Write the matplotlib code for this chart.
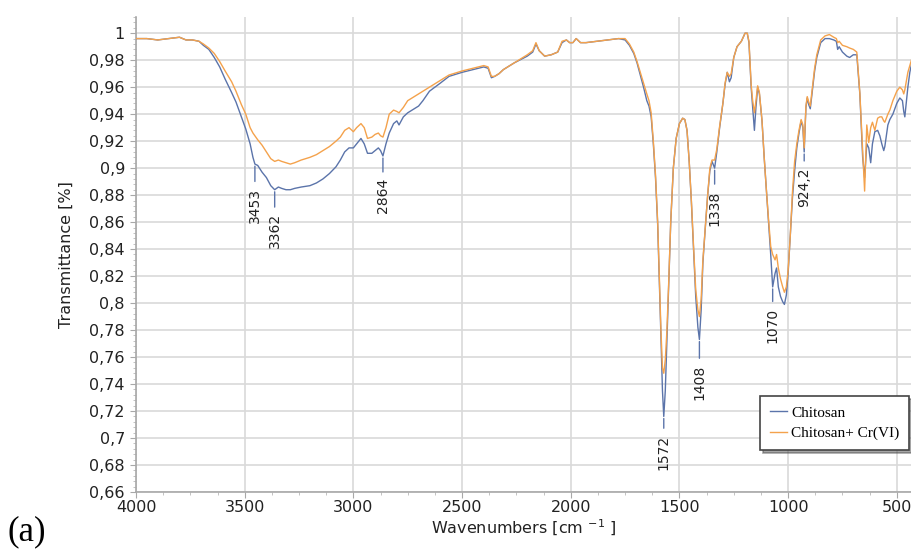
import numpy as np
import matplotlib.pyplot as plt
from matplotlib.ticker import MultipleLocator, AutoMinorLocator, FuncFormatter

# FTIR spectra: wavenumber [cm-1] and transmittance for both samples
wavenumber = [
    4000, 3950, 3900, 3850, 3800, 3770, 3740, 3710, 3690, 3665, 3640, 3615,
    3590, 3560, 3540, 3515, 3495, 3475, 3462, 3453, 3440, 3420, 3400, 3380,
    3362, 3345, 3330, 3310, 3290, 3270, 3240, 3200, 3170, 3140, 3110, 3080,
    3060, 3040, 3020, 3000, 2985, 2965, 2950, 2935, 2915, 2900, 2885, 2875,
    2864, 2850, 2835, 2815, 2800, 2790, 2770, 2750, 2720, 2700, 2680, 2650,
    2600, 2560, 2500, 2450, 2400, 2380, 2365, 2350, 2330, 2310, 2260, 2200,
    2175, 2160, 2145, 2120, 2090, 2060, 2040, 2020, 2005, 1990, 1975, 1955,
    1930, 1880, 1830, 1780, 1750, 1730, 1710, 1695, 1680, 1665, 1650, 1640,
    1630, 1620, 1610, 1600, 1592, 1585, 1578, 1572, 1565, 1558, 1550, 1540,
    1528, 1515, 1500, 1485, 1475, 1465, 1455, 1445, 1435, 1425, 1415, 1408,
    1400, 1392, 1380, 1370, 1360, 1350, 1338, 1328, 1315, 1300, 1290, 1280,
    1270, 1262, 1250, 1235, 1215, 1198, 1188, 1180, 1170, 1163, 1155, 1148,
    1140, 1132, 1120, 1110, 1100, 1090, 1080, 1071, 1060, 1053, 1045, 1035,
    1025, 1017, 1008, 1000, 990, 980, 970, 960, 950, 940, 932, 926,
    918, 912, 905, 898, 888, 878, 868, 850, 830, 810, 790, 778,
    772, 765, 750, 730, 717, 700, 684, 670, 657, 648, 638, 629,
    620, 612, 601, 588, 578, 569, 560, 555, 541, 532, 518, 500,
    486, 474, 468, 463, 449, 440, 431,
]

chitosan = [
    0.996, 0.996, 0.995, 0.996, 0.997, 0.995, 0.995, 0.994, 0.991, 0.988, 0.982, 0.975,
    0.966, 0.956, 0.949, 0.938, 0.929, 0.918, 0.908, 0.903, 0.902, 0.897, 0.893, 0.887,
    0.884, 0.886, 0.885, 0.884, 0.884, 0.885, 0.886, 0.887, 0.889, 0.892, 0.896, 0.901,
    0.906, 0.912, 0.915, 0.915, 0.918, 0.922, 0.918, 0.911, 0.911, 0.913, 0.915, 0.913,
    0.909, 0.918, 0.926, 0.933, 0.935, 0.932, 0.938, 0.941, 0.944, 0.946, 0.950, 0.957,
    0.963, 0.968, 0.971, 0.973, 0.975, 0.974, 0.967, 0.968, 0.970, 0.973, 0.978, 0.983,
    0.986, 0.992, 0.987, 0.983, 0.984, 0.986, 0.993, 0.995, 0.993, 0.993, 0.996, 0.993,
    0.993, 0.994, 0.995, 0.996, 0.995, 0.991, 0.985, 0.978, 0.969, 0.960, 0.950, 0.946,
    0.938, 0.918, 0.893, 0.858, 0.815, 0.775, 0.735, 0.716, 0.735, 0.770, 0.810, 0.860,
    0.900, 0.922, 0.933, 0.937, 0.936, 0.928, 0.905, 0.875, 0.840, 0.805, 0.782, 0.773,
    0.795, 0.830, 0.858, 0.880, 0.898, 0.905, 0.900, 0.912, 0.930, 0.948, 0.962, 0.971,
    0.964, 0.967, 0.982, 0.990, 0.994, 1.000, 1.000, 0.993, 0.960, 0.945, 0.928, 0.945,
    0.960, 0.955, 0.935, 0.908, 0.884, 0.860, 0.836, 0.812, 0.822, 0.826, 0.812, 0.805,
    0.801, 0.799, 0.806, 0.822, 0.850, 0.878, 0.898, 0.915, 0.926, 0.935, 0.930, 0.912,
    0.945, 0.952, 0.947, 0.944, 0.958, 0.972, 0.982, 0.993, 0.996, 0.996, 0.995, 0.994,
    0.988, 0.990, 0.986, 0.983, 0.982, 0.984, 0.984, 0.955, 0.908, 0.893, 0.918, 0.915,
    0.904, 0.918, 0.927, 0.928, 0.924, 0.918, 0.913, 0.916, 0.932, 0.936, 0.940, 0.948,
    0.952, 0.950, 0.942, 0.938, 0.960, 0.971, 0.978,
]

chitosan_cr = [
    0.996, 0.996, 0.995, 0.996, 0.997, 0.995, 0.995, 0.994, 0.992, 0.989, 0.985, 0.979,
    0.972, 0.964, 0.957, 0.947, 0.940, 0.930, 0.926, 0.924, 0.921, 0.917, 0.912, 0.907,
    0.905, 0.906, 0.905, 0.904, 0.903, 0.904, 0.906, 0.908, 0.910, 0.913, 0.916, 0.920,
    0.923, 0.928, 0.930, 0.927, 0.930, 0.933, 0.930, 0.922, 0.923, 0.925, 0.926, 0.924,
    0.923, 0.930, 0.940, 0.943, 0.942, 0.941, 0.945, 0.950, 0.953, 0.955, 0.957, 0.960,
    0.965, 0.969, 0.972, 0.974, 0.976, 0.975, 0.968, 0.968, 0.970, 0.973, 0.978, 0.984,
    0.987, 0.993, 0.987, 0.983, 0.984, 0.986, 0.994, 0.995, 0.993, 0.993, 0.996, 0.993,
    0.993, 0.994, 0.995, 0.996, 0.996, 0.992, 0.986, 0.979, 0.971, 0.963, 0.955, 0.950,
    0.941, 0.920, 0.895, 0.860, 0.818, 0.780, 0.752, 0.748, 0.758, 0.778, 0.812, 0.860,
    0.900, 0.922, 0.933, 0.937, 0.936, 0.928, 0.905, 0.876, 0.842, 0.810, 0.795, 0.790,
    0.803, 0.832, 0.858, 0.880, 0.900, 0.906, 0.906, 0.914, 0.931, 0.948, 0.963, 0.971,
    0.968, 0.970, 0.982, 0.990, 0.994, 1.000, 1.000, 0.994, 0.962, 0.950, 0.941, 0.950,
    0.961, 0.956, 0.935, 0.908, 0.884, 0.862, 0.842, 0.836, 0.832, 0.836, 0.826, 0.818,
    0.812, 0.808, 0.812, 0.824, 0.850, 0.882, 0.905, 0.918, 0.928, 0.936, 0.932, 0.915,
    0.946, 0.953, 0.949, 0.946, 0.960, 0.974, 0.984, 0.995, 0.998, 0.999, 0.997, 0.996,
    0.993, 0.994, 0.991, 0.990, 0.989, 0.988, 0.986, 0.956, 0.912, 0.883, 0.932, 0.919,
    0.930, 0.934, 0.928, 0.937, 0.938, 0.938, 0.935, 0.934, 0.940, 0.943, 0.950, 0.957,
    0.960, 0.958, 0.955, 0.958, 0.971, 0.976, 0.981,
]

# labelled bands on the chitosan curve and the gap (pt) down to each label
peak_labels = ["3453", "3362", "2864", "1572", "1408", "1338", "1070", "924,2"]
peak_positions = [3453, 3362, 2864, 1572, 1408, 1338, 1071, 926]
label_gaps = [17, 17, 16, 13, 18, 16, 15, 11]

blue = "#5b74aa"
orange = "#f4a24c"

fig = plt.figure(figsize=(9.12, 5.49), dpi=100)
ax = fig.add_axes([136 / 912, 57 / 549, 776 / 912, 475 / 549])

ax.plot(wavenumber, chitosan, color=blue, lw=1.0, label="Chitosan", zorder=3)
ax.plot(wavenumber, chitosan_cr, color=orange, lw=1.0, label="Chitosan+ Cr(VI)", zorder=3)

wn_rev = np.array(wavenumber[::-1])
ch_rev = np.array(chitosan[::-1])
for text, pos, gap in zip(peak_labels, peak_positions, label_gaps):
    t = np.interp(pos, wn_rev, ch_rev)
    ax.annotate(text, xy=(pos, t), xytext=(0, -gap), textcoords="offset points",
                rotation=90, ha="center", va="top", fontsize=10, color="#222222",
                arrowprops=dict(arrowstyle="-", color=blue, lw=1.0,
                                shrinkA=2.5, shrinkB=1.5), zorder=4)

ax.set_xlim(4000, 430)
ax.set_ylim(0.66, 1.012)

ax.xaxis.set_major_locator(MultipleLocator(500))
ax.xaxis.set_minor_locator(MultipleLocator(125))
ax.yaxis.set_major_locator(MultipleLocator(0.02))
ax.yaxis.set_minor_locator(AutoMinorLocator(5))


def comma_fmt(v, pos):
    s = f"{v:.2f}".rstrip("0").rstrip(".")
    return s.replace(".", ",")


ax.yaxis.set_major_formatter(FuncFormatter(comma_fmt))

ax.grid(True, which="major", color="#d9d9d9", lw=1.2, zorder=0)
for side in ["top", "right"]:
    ax.spines[side].set_visible(False)
for side in ["left", "bottom"]:
    ax.spines[side].set_color("#a8a8a8")
    ax.spines[side].set_linewidth(1.2)

ax.tick_params(axis="both", which="major", length=4, color="#a8a8a8",
               labelsize=11.5, labelcolor="#222222")
ax.tick_params(axis="both", which="minor", length=2.5, color="#b8b8b8")
ax.tick_params(axis="y", which="major", pad=4)
ax.tick_params(axis="x", which="major", pad=2)

ax.set_ylabel("Transmittance [%]", fontsize=11.5, color="#222222", labelpad=11)
ax.set_xlabel(r"Wavenumbers [cm $^{-1}$ ]", fontsize=11.5, color="#222222", labelpad=2)

leg = ax.legend(loc="lower left", bbox_to_anchor=(0.804, 0.088), borderaxespad=0,
                prop={"family": "Liberation Serif", "size": 11},
                handlelength=1.1, handletextpad=0.3, labelspacing=0.45,
                borderpad=0.65, fancybox=False, shadow=True, framealpha=1)
leg.get_frame().set_edgecolor("#444444")
leg.get_frame().set_linewidth(1.2)

fig.text(8 / 912, 9 / 549, "(a)", family="Liberation Serif", fontsize=25,
         ha="left", va="baseline", color="black")

fig.savefig("out.png", dpi=100)
